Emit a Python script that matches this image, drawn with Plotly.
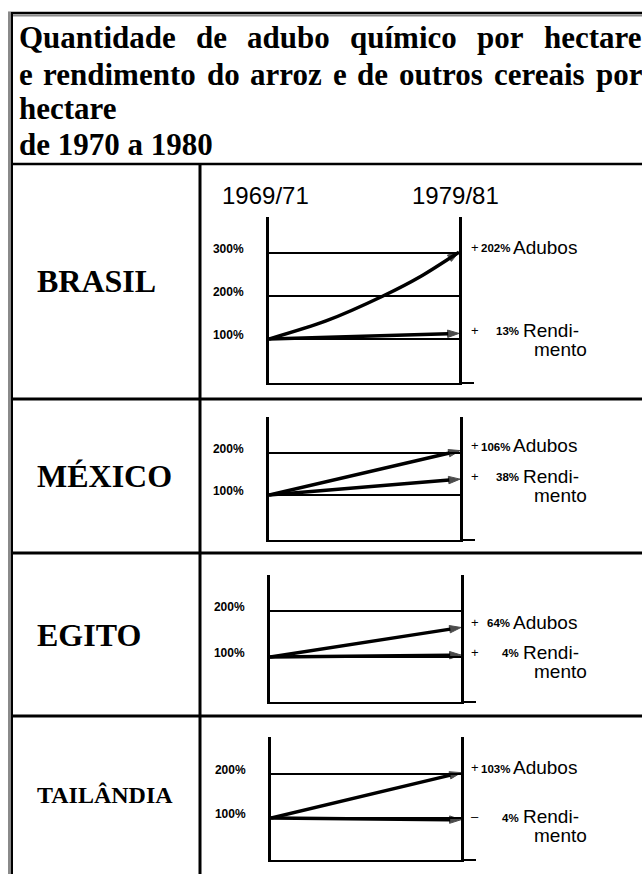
import plotly.graph_objects as go

# ---------------- data ----------------
countries = ["BRASIL", "MÉXICO", "EGITO", "TAILÂNDIA"]
periods = [1970, 1980]
period_labels = ["1969/71", "1979/81"]
base_index = 100
adubos_final = [302, 206, 164, 203]
rendimento_final = [113, 138, 104, 96]
# Brasil fertilizer curve
brasil_adubos_years = [1970, 1973, 1976, 1978, 1980]
brasil_adubos_values = [100, 142, 200, 246, 302]
ytick_values = [[100, 200, 300], [100, 200], [100, 200], [100, 200]]
title_lines = ["Quantidade de adubo químico por hectare",
               "e rendimento do arroz e de outros cereais por",
               "hectare",
               "de 1970 a 1980"]
word_adubos = "Adubos"
word_rend = ["Rendi-", "mento"]

# ---------------- layout helpers ----------------
W, H = 642, 874


def X(px):
    return px / W


def Y(py):
    return 1 - py / H


# pixel geometry of each mini chart
geo = [
    dict(left=269, right=459, top=217, bottom=383, yr=[-2.3, 383.7], row=(164, 399)),
    dict(left=269, right=460, top=417, bottom=540, yr=[-7, 286], row=(399, 553)),
    dict(left=270, right=461, top=575, bottom=702, yr=[2, 278], row=(553, 716)),
    dict(left=271, right=461, top=737, bottom=860, yr=[4.5, 284], row=(716, 874)),
]
name_sizes = [32, 32, 32, 24]

SERIF = "Liberation Serif"
SANS = "Liberation Sans"

fig = go.Figure()
annotations = []
shapes = []
layout_axes = {}

for i in range(4):
    g = geo[i]
    n = "" if i == 0 else str(i + 1)
    xa, ya = "x" + n, "y" + n
    if i == 0:
        ax_x, ax_y = brasil_adubos_years, brasil_adubos_values
        shape = "spline"
    else:
        ax_x, ax_y = periods, [base_index, adubos_final[i]]
        shape = "linear"
    for xs, ys, shp in [(ax_x, ax_y, shape),
                        (periods, [base_index, rendimento_final[i]], "linear")]:
        fig.add_trace(go.Scatter(
            x=xs, y=ys, mode="lines+markers", xaxis=xa, yaxis=ya,
            line=dict(color="black", width=3.5, shape=shp, smoothing=0.8),
            marker=dict(symbol="arrow", angleref="previous", color="black",
                        size=[0] * (len(xs) - 1) + [12],
                        line=dict(color="black", width=1)),
            cliponaxis=False, showlegend=False, hoverinfo="skip"))

    layout_axes["xaxis" + n] = dict(
        domain=[X(g["left"]), X(g["right"])], range=[1970, 1980], anchor=ya,
        showgrid=False, zeroline=False, showticklabels=False, ticks="",
        showline=True, linecolor="black", linewidth=2, fixedrange=True)
    layout_axes["yaxis" + n] = dict(
        domain=[Y(g["bottom"]), Y(g["top"])], range=g["yr"], anchor=xa,
        tickvals=ytick_values[i], ticktext=[f"{v}%" for v in ytick_values[i]],
        tickfont=dict(family=SANS, size=12, color="black", weight="bold"),
        ticklabelstandoff=20, ticklabelshift=-4, ticks="",
        showgrid=True, gridcolor="black", gridwidth=1.5, zeroline=False,
        showline=True, mirror=True, linecolor="black", linewidth=3,
        fixedrange=True)

    # extension of the base line past the right vertical
    shapes.append(dict(type="line", xref="paper", yref="paper",
                       x0=X(g["right"]), x1=X(g["right"] + 15),
                       y0=Y(g["bottom"]), y1=Y(g["bottom"]),
                       line=dict(color="black", width=2)))

    # right-hand labels
    for val, word, ysh, num_right, word_left in [
            (adubos_final[i], word_adubos, 5, 512, 511),
            (rendimento_final[i], word_rend[0], 3, 521, 521)]:
        delta = val - base_index
        sign = "+" if delta >= 0 else "–"
        annotations.append(dict(text=sign, xref="paper", x=X(481), xanchor="right",
                                yref=ya, y=val, yshift=ysh, showarrow=False,
                                font=dict(family=SANS, size=13, color="black")))
        annotations.append(dict(text=f"<b>{abs(delta)}%</b>", xref="paper", x=X(num_right),
                                xanchor="right", yref=ya, y=val, yshift=ysh - 1,
                                showarrow=False,
                                font=dict(family=SANS, size=11.5, color="black")))
        annotations.append(dict(text=word, xref="paper", x=X(word_left), xanchor="left",
                                yref=ya, y=val, yshift=ysh, showarrow=False,
                                font=dict(family=SANS, size=19, color="black")))
    annotations.append(dict(text=word_rend[1], xref="paper", x=X(589), xanchor="right",
                            yref=ya, y=rendimento_final[i], yshift=3 - 19,
                            showarrow=False,
                            font=dict(family=SANS, size=19, color="black")))

    # country name
    r0, r1 = g["row"]
    annotations.append(dict(text=f"<b>{countries[i]}</b>", xref="paper", yref="paper",
                            x=X(35), xanchor="left", y=Y((r0 + r1) / 2),
                            yanchor="middle", showarrow=False,
                            font=dict(family=SERIF, size=name_sizes[i], color="black")))

# period labels above the first chart
for p, lab in zip(periods, period_labels):
    annotations.append(dict(text=lab, xref="x", x=p, xanchor="center", xshift=-4,
                            yref="paper", y=Y(196), yanchor="middle", showarrow=False,
                            font=dict(family=SANS, size=24, color="black")))

# ---------------- title (justified lines) ----------------
TB = {'a': 500, 'b': 556, 'c': 444, 'd': 556, 'e': 444, 'h': 556, 'i': 278, 'í': 278,
      'm': 833, 'n': 556, 'o': 500, 'p': 556, 'q': 556, 'r': 444, 's': 389, 't': 333,
      'u': 556, 'z': 444, 'Q': 778, 'l': 278}
TFS = 31
title_centers = [38, 74, 109, 145]
x0, x1 = 19, 642
for li, line in enumerate(title_lines):
    yc = Y(title_centers[li])
    if li < 2:
        words = line.split(" ")
        widths = [sum(TB.get(c, 500) for c in w) * TFS / 1000 for w in words]
        gap = (x1 - x0 - sum(widths)) / (len(words) - 1)
        xx = x0
        for w, wd in zip(words, widths):
            annotations.append(dict(text=f"<b>{w}</b>", xref="paper", yref="paper",
                                    x=X(xx - 2), xanchor="left", y=yc, yanchor="middle",
                                    showarrow=False,
                                    font=dict(family=SERIF, size=TFS, color="black")))
            xx += wd + gap
    else:
        annotations.append(dict(text=f"<b>{line}</b>", xref="paper", yref="paper",
                                x=X(x0 - 2), xanchor="left", y=yc, yanchor="middle",
                                showarrow=False,
                                font=dict(family=SERIF, size=TFS, color="black")))

# ---------------- table frame ----------------
def hline(py, xa_, xb_, w, c="black"):
    shapes.append(dict(type="line", xref="paper", yref="paper", x0=X(xa_), x1=X(xb_),
                       y0=Y(py), y1=Y(py), line=dict(color=c, width=w)))


def vline(px, ya_, yb_, w, c="black"):
    shapes.append(dict(type="line", xref="paper", yref="paper", x0=X(px), x1=X(px),
                       y0=Y(ya_), y1=Y(yb_), line=dict(color=c, width=w)))


hline(13, 8, 642, 2.5)
hline(15.5, 11, 642, 2, "#8a8a8a")
vline(9.5, 12, 874, 3, "#8a8a8a")
vline(12, 14, 874, 2)
hline(164, 12, 642, 2.5)
vline(200, 164, 874, 3)
for py in [399, 553, 716]:
    hline(py, 12, 642, 3)

fig.update_layout(
    width=W, height=H, margin=dict(l=0, r=0, t=0, b=0),
    paper_bgcolor="white", plot_bgcolor="white",
    showlegend=False, annotations=annotations, shapes=shapes,
    **layout_axes)

fig.write_html("out.html", config={"displayModeBar": False},
               post_script="document.body.style.margin='0px';"
                           "document.body.style.padding='0px';")
